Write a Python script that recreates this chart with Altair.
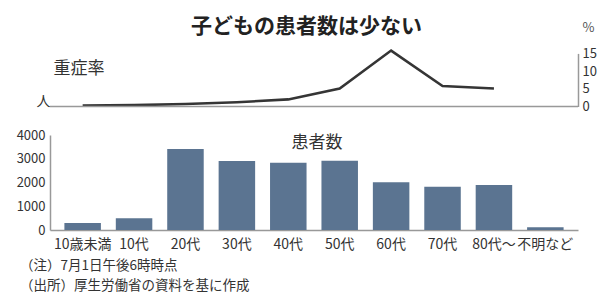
import altair as alt
import pandas as pd

# ---- data ----
ages = ["10歳未満", "10代", "20代", "30代", "40代", "50代", "60代", "70代", "80代～", "不明など"]
patients = [300, 500, 3410, 2905, 2835, 2920, 2010, 1825, 1895, 115]
severe_ages = ["10歳未満", "10代", "20代", "30代", "40代", "50代", "60代", "70代", "80代～"]
severe_rate = [0.3, 0.4, 0.7, 1.2, 2.0, 5.1, 15.8, 5.8, 5.1]

title_text = "子どもの患者数は少ない"
line_label = "重症率"
bar_label = "患者数"
notes = ["（注）7月1日午後6時時点", "（出所）厚生労働省の資料を基に作成"]

FONT = "Noto Sans CJK JP"
W, H = 528, 222

bars_df = pd.DataFrame({"age": ages, "patients": patients})
line_df = pd.DataFrame({"age": severe_ages, "rate": severe_rate})

xscale = alt.Scale(domain=ages, paddingInner=0.29, paddingOuter=0.28)
xenc = alt.X("age:N", sort=ages, scale=xscale,
             axis=alt.Axis(title=None, labelAngle=0, ticks=False, labelPadding=7,
                           labelFontSize=14, labelColor="#333", domainColor="#999",
                           domainWidth=1.5, labelFont=FONT))

bars = alt.Chart(bars_df).mark_bar(color="#5b7491").encode(
    x=xenc,
    y=alt.Y("patients:Q",
            scale=alt.Scale(domain=[0, 4000], range=[H, 127], nice=False),
            axis=alt.Axis(values=[0, 1000, 2000, 3000, 4000], format="d", grid=False,
                          ticks=False, labelPadding=5, labelFontSize=13, labelColor="#333",
                          domainColor="#999", domainWidth=1.5,
                          title="人", titleAngle=0, titleX=-7, titleY=93,
                          titleAlign="center", titleBaseline="middle",
                          titleFontSize=14, titleFontWeight="normal", titleColor="#333")),
)

rate_axis = alt.Axis(orient="right", values=[0, 5, 10, 15], format="d", grid=False, ticks=False,
                     labelPadding=4, labelFontSize=13, labelColor="#333",
                     domainColor="#999", domainWidth=1.5,
                     title="%", titleAngle=0, titleX=10, titleY=19,
                     titleAlign="center", titleBaseline="middle",
                     titleFontSize=13, titleFontWeight="normal", titleColor="#555")
rate_scale = alt.Scale(domain=[0, 15], range=[98.5, 45.4], nice=False, zero=True)

line = alt.Chart(line_df).mark_line(color="#353535", strokeWidth=2.6).encode(
    x=alt.X("age:N", sort=ages, scale=xscale),
    y=alt.Y("rate:Q", scale=rate_scale, axis=rate_axis),
)

base_rule = alt.Chart(pd.DataFrame({"v": [0]})).mark_rule(color="#999", strokeWidth=1.5).encode(
    y=alt.Y("v:Q", scale=rate_scale, axis=rate_axis),
    x=alt.value(0),
    x2=alt.value(W),
)

top = alt.layer(line, base_rule)

def label(txt, x, y, size, weight="normal", align="center", color="#333"):
    return alt.Chart(pd.DataFrame({"t": [txt]})).mark_text(
        font=FONT, fontSize=size, fontWeight=weight, align=align,
        baseline="middle", color=color,
    ).encode(text="t:N", x=alt.value(x), y=alt.value(y))

texts = alt.layer(
    label(title_text, 256.5, 19, 21, weight="bold", color="#222"),
    label(line_label, 29, 61, 17),
    label(bar_label, 267, 135, 17),
    label(notes[0], -30, 258, 13.5, align="left"),
    label(notes[1], -30, 278, 13.5, align="left"),
)

chart = alt.layer(bars, top, texts).resolve_scale(y="independent").properties(
    width=W, height=H,
    padding={"left": 42, "top": 0, "right": 25, "bottom": 66},
    autosize=alt.AutoSizeParams(type="none"),
).configure(font=FONT).configure_view(stroke=None)

chart.save("out.html", embed_options={"renderer": "svg", "actions": False})
